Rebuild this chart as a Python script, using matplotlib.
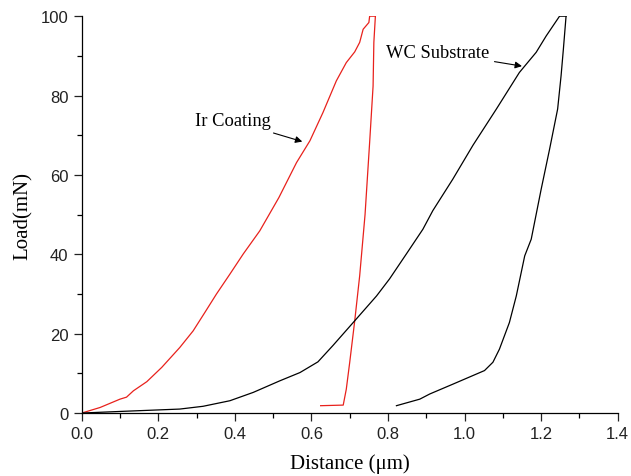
import numpy as np
import matplotlib.pyplot as plt
from matplotlib.ticker import MultipleLocator

# Ir coating: loading and unloading branches
ir_load_x = [0.0, 0.048, 0.100, 0.117, 0.135, 0.170, 0.209, 0.256, 0.291, 0.322, 0.352, 0.387,
             0.422, 0.465, 0.515, 0.561, 0.596, 0.630, 0.665, 0.691, 0.713, 0.726, 0.735, 0.750, 0.752, 0.767]
ir_load_y = [0.0, 1.4, 3.5, 4.0, 5.6, 7.9, 11.5, 16.5, 20.7, 25.4, 30.0, 35.0,
             40.1, 45.9, 54.3, 63.1, 68.6, 75.7, 83.7, 88.3, 91.0, 93.4, 96.7, 98.4, 100.0, 100.0]
ir_unload_x = [0.767, 0.763, 0.761, 0.752, 0.740, 0.726, 0.713, 0.700, 0.691, 0.683, 0.624]
ir_unload_y = [100.0, 93.4, 82.4, 68.2, 50.0, 34.6, 23.2, 12.8, 6.0, 2.0, 1.85]

# WC substrate: loading and unloading branches
wc_load_x = [0.0, 0.100, 0.256, 0.317, 0.387, 0.448, 0.517, 0.570, 0.617, 0.656, 0.709, 0.770,
             0.804, 0.848, 0.891, 0.917, 0.969, 1.022, 1.083, 1.143, 1.187, 1.213, 1.248, 1.265]
wc_load_y = [0.0, 0.4, 1.0, 1.7, 3.1, 5.2, 8.1, 10.2, 12.9, 17.0, 22.8, 29.5,
             33.8, 40.1, 46.3, 51.0, 58.9, 67.5, 76.6, 85.8, 90.9, 95.0, 100.0, 100.0]
wc_unload_x = [1.265, 1.258, 1.252, 1.243, 1.222, 1.200, 1.174, 1.157, 1.135, 1.117, 1.091,
               1.074, 1.052, 0.970, 0.909, 0.883, 0.822]
wc_unload_y = [100.0, 91.7, 85.0, 76.6, 66.5, 56.4, 43.8, 39.6, 29.5, 22.8, 16.1,
               12.8, 10.7, 7.3, 4.8, 3.5, 1.85]

plt.rcParams['font.family'] = 'Liberation Sans'

fig = plt.figure(figsize=(6.31, 4.77), dpi=100)
ax = fig.add_axes([0.1295, 0.132, 0.8495, 0.832])

ax.plot(ir_load_x, ir_load_y, color='#e8211c', lw=0.9)
ax.plot(ir_unload_x, ir_unload_y, color='#e8211c', lw=0.9)
ax.plot(wc_load_x, wc_load_y, color='black', lw=0.9)
ax.plot(wc_unload_x, wc_unload_y, color='black', lw=0.9)

ax.set_xlim(0, 1.4)
ax.set_ylim(0, 100)
ax.set_xticks(np.arange(0, 1.41, 0.2))
ax.set_xticklabels([f'{v:.1f}' for v in np.arange(0, 1.41, 0.2)])
ax.xaxis.set_minor_locator(MultipleLocator(0.1))
ax.yaxis.set_major_locator(MultipleLocator(20))
ax.yaxis.set_minor_locator(MultipleLocator(10))

for s in ['top', 'right']:
    ax.spines[s].set_visible(False)
for s in ['left', 'bottom']:
    ax.spines[s].set_linewidth(0.9)
ax.tick_params(which='major', direction='out', length=6, width=0.9, labelsize=12, colors='#222222')
ax.tick_params(which='minor', direction='out', length=3.8, width=0.9)

ax.set_xlabel('Distance (μm)', family='Liberation Serif', fontsize=15, labelpad=9)
ax.set_ylabel('Load(mN)', family='Liberation Serif', fontsize=15, labelpad=6)

arrow = dict(arrowstyle='-|>', color='black', lw=0.8, mutation_scale=10)
ax.annotate('Ir Coating', xy=(0.583, 68.2), xytext=(0.395, 73.6), ha='center', va='center',
            family='Liberation Serif', fontsize=13.3, arrowprops=arrow)
ax.annotate('WC Substrate', xy=(1.157, 87.3), xytext=(0.794, 90.9), ha='left', va='center',
            family='Liberation Serif', fontsize=13.3, arrowprops=arrow)

fig.savefig('out.png', dpi=100)
